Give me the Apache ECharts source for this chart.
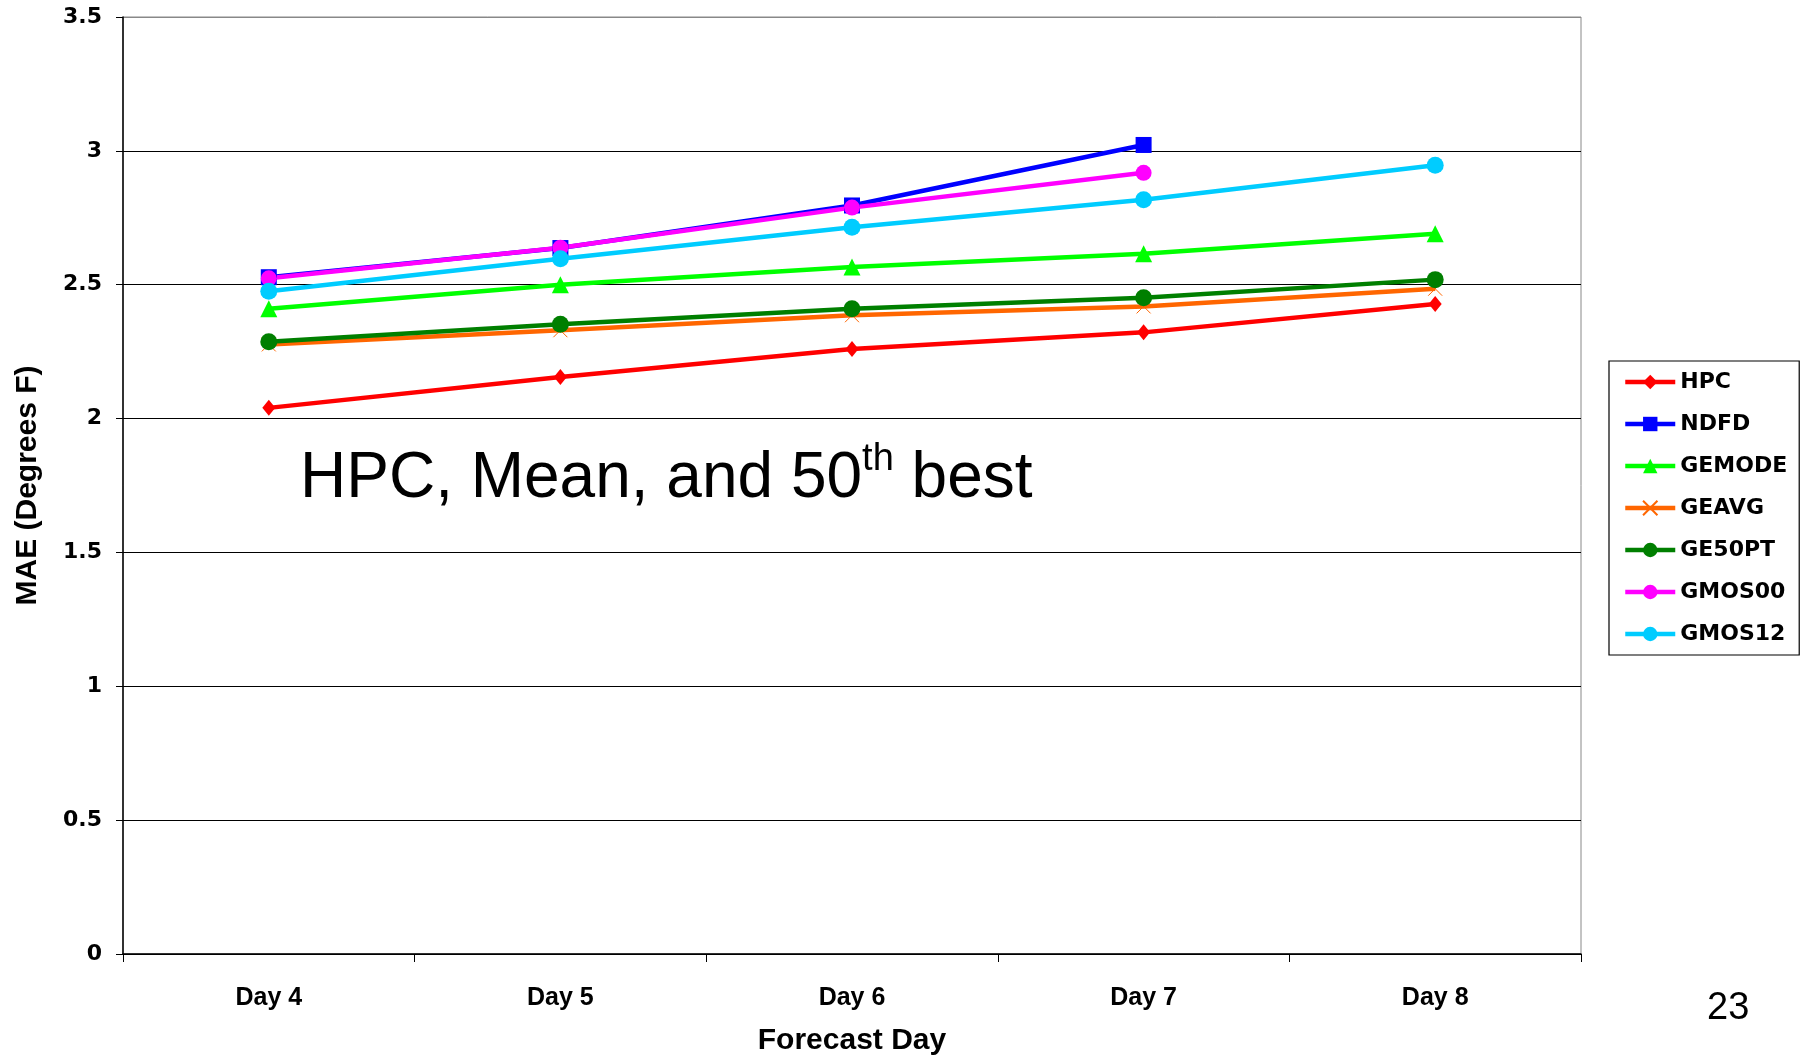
<!DOCTYPE html>
<html>
<head>
<meta charset="utf-8">
<script src="https://cdn.jsdelivr.net/npm/echarts@6/dist/echarts.min.js"></script>
<style>
html,body{margin:0;padding:0;background:#fff;}
#chart{width:1809px;height:1056px;}
</style>
</head>
<body>
<div id="chart"></div>
<script>
const categories = ['Day 4', 'Day 5', 'Day 6', 'Day 7', 'Day 8'];
const yTicks = [0, 0.5, 1, 1.5, 2, 2.5, 3, 3.5];
const hpc    = [2.04, 2.155, 2.26, 2.322, 2.428];
const ndfd   = [2.528, 2.637, 2.796, 3.022, null];
const gemode = [2.41, 2.50, 2.566, 2.616, 2.69];
const geavg  = [2.277, 2.33, 2.386, 2.419, 2.485];
const ge50pt = [2.287, 2.352, 2.41, 2.451, 2.519];
const gmos00 = [2.524, 2.638, 2.788, 2.918, null];
const gmos12 = [2.476, 2.597, 2.715, 2.817, 2.946];

const xMark = 'path://M0,0L10,10M10,0L0,10';

function mk(name, data, color, symbol, size, extra) {
  return Object.assign({
    name: name,
    type: 'line',
    data: data,
    symbol: symbol,
    symbolSize: size,
    showAllSymbol: true,
    connectNulls: false,
    color: color,
    lineStyle: { color: color, width: 4.5 },
    itemStyle: { color: color },
    emphasis: { disabled: true },
    animation: false
  }, extra || {});
}

const chart = echarts.init(document.getElementById('chart'), null, { renderer: 'canvas' });
chart.setOption({
  animation: false,
  backgroundColor: '#ffffff',
  grid: { left: 123, right: 228, top: 17, bottom: 102, outerBoundsMode: 'none', containLabel: false, show: true, borderColor: '#888888', borderWidth: 1, backgroundColor: 'transparent' },
  xAxis: {
    type: 'category',
    data: categories,
    boundaryGap: true,
    axisLine: { show: true, lineStyle: { color: '#000', width: 1.5 } },
    axisTick: { show: true, length: 8, lineStyle: { color: '#000' }, alignWithLabel: false },
    axisLabel: { color: '#000', fontFamily: 'Liberation Sans', fontWeight: 'bold', fontSize: 25, margin: 32 },
    name: 'Forecast Day',
    nameLocation: 'middle',
    nameGap: 72,
    nameTextStyle: { color: '#000', fontFamily: 'Liberation Sans', fontWeight: 'bold', fontSize: 30 }
  },
  yAxis: {
    type: 'value',
    min: yTicks[0],
    max: yTicks[yTicks.length - 1],
    interval: 0.5,
    axisLine: { show: true, lineStyle: { color: '#000', width: 1.5 } },
    axisTick: { show: true, length: 7, inside: false, lineStyle: { color: '#000' } },
    axisLabel: { color: '#000', fontFamily: 'DejaVu Sans', fontWeight: 'bold', fontSize: 22, margin: 21 },
    splitLine: { show: true, lineStyle: { color: ['#000','#000','#000','#000','#000','#000','#000','#888'], width: 1.2 } },
    name: 'MAE (Degrees F)',
    nameLocation: 'middle',
    nameGap: 80,
    nameTextStyle: { color: '#000', fontFamily: 'Liberation Sans', fontWeight: 'bold', fontSize: 30 }
  },
  legend: {
    orient: 'vertical',
    left: 1609,
    top: 361,
    padding: [10, 12, 10, 14],
    itemWidth: 50,
    itemHeight: 18,
    itemGap: 20,
    borderColor: '#000',
    borderWidth: 1.2,
    backgroundColor: '#fff',
    lineStyle: { width: 4.5 },
    textStyle: { color: '#000', fontFamily: 'DejaVu Sans', fontWeight: 'bold', fontSize: 22, padding: [0, 0, 0, 0] },
    data: ['HPC', 'NDFD', 'GEMODE', 'GEAVG', 'GE50PT', 'GMOS00', 'GMOS12']
  },
  graphic: [
    {
      type: 'text',
      left: 300,
      top: 441,
      z: 10,
      style: {
        text: '{a|HPC, Mean, and 50}{s|th}{a| best}',
        rich: {
          a: { fontFamily: 'Liberation Sans', fontSize: 64, lineHeight: 70, fill: '#000', verticalAlign: 'bottom' },
          s: { fontFamily: 'Liberation Sans', fontSize: 38, lineHeight: 70, fill: '#000', verticalAlign: 'top' }
        }
      }
    },
    {
      type: 'text',
      left: 1707,
      top: 990,
      style: { text: '23', fontFamily: 'Liberation Sans', fontSize: 38, fill: '#000' }
    }
  ],
  series: [
    mk('HPC', hpc, '#FF0000', 'diamond', [13, 16]),
    mk('NDFD', ndfd, '#0000FF', 'rect', 16),
    mk('GEMODE', gemode, '#00FF00', 'triangle', 17),
    mk('GEAVG', geavg, '#FF6600', xMark, 14, { itemStyle: { color: '#FF6600', borderColor: '#FF6600', borderWidth: 1 } }),
    mk('GE50PT', ge50pt, '#007F00', 'circle', 17),
    mk('GMOS00', gmos00, '#FF00FF', 'circle', 16),
    mk('GMOS12', gmos12, '#00CCFF', 'circle', 17)
  ]
});
</script>
</body>
</html>
